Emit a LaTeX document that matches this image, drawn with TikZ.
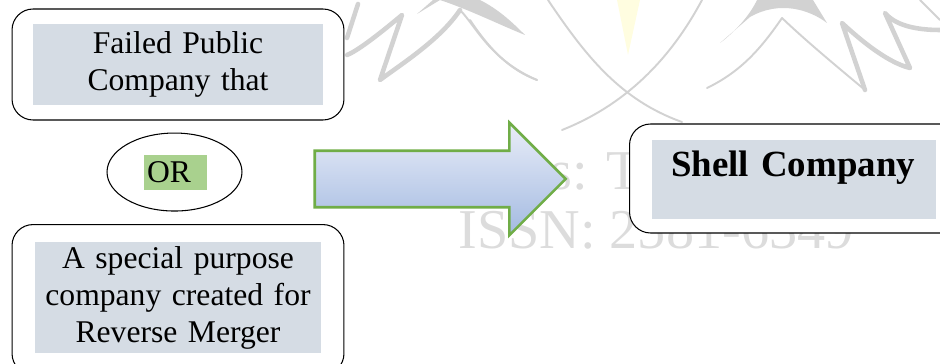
\documentclass[tikz,border=0pt]{standalone}
\usepackage{xcolor}
\usepackage{fontspec}
\setmainfont{Liberation Serif}
\usetikzlibrary{positioning,shapes.geometric,shapes.arrows}
\definecolor{softgray}{HTML}{D5DCE4}
\definecolor{softgreen}{HTML}{A9D18E}
\definecolor{arrowgreen}{HTML}{70AD47}
\definecolor{arrowtop}{HTML}{E9EDF8}
\definecolor{arrowbottom}{HTML}{A3BAE1}
\definecolor{marklines}{HTML}{D2D2D2}
\definecolor{marktext}{HTML}{DCDCDC}

\begin{document}
\begin{tikzpicture}[x=0.02cm, y=-0.02cm,
    every node/.style={font=\fontsize{18}{21}\selectfont},
    thinmark/.style={draw=marklines, line width=1.1pt, line cap=round, line join=round},
    thickmark/.style={draw=marklines, line width=2.6pt, line cap=round, line join=round},
    outerbox/.style={draw, line width=0.6pt, rounded corners=0.42cm, fill=white, minimum width=6.64cm, inner sep=0pt},
    grayblock/.style={fill=softgray, inner sep=0pt, align=center}]
  \useasboundingbox (0,0) rectangle (940,364);
  % faint marks behind the boxes
  \draw[thinmark] (470,20) .. controls (490,50) and (510,70) .. (537,80);
  \draw[thinmark] (460,10) .. controls (475,25) and (490,60) .. (537,80);
  \draw[thinmark] (548,0) .. controls (585,55) and (620,100) .. (682,122);
  \draw[thinmark] (702,0) .. controls (670,60) and (625,105) .. (562,130);
  \draw[thinmark] (707,88) .. controls (740,72) and (760,50) .. (782,18) .. controls (805,40) and (835,65) .. (865,90);
  \draw[thickmark] (865,90) -- (842,23) .. controls (855,35) and (885,62) .. (910,68) -- (885,13) .. controls (895,25) and (915,30) .. (940,30);
  \draw[thinmark] (920,0) -- (940,20);
  \fill[marklines] (720,43) .. controls (735,32) and (750,15) .. (757,0) -- (813,0) -- (827,23) .. controls (810,10) and (780,0) .. (750,17) -- cycle;
  \draw[thickmark] (347,55) .. controls (360,50) and (390,25) .. (402,15) -- (380,80) .. controls (400,65) and (440,40) .. (460,10);
  \draw[thickmark] (347,38) -- (358,4);
  \fill[marklines] (417,14) -- (433,0) -- (480,0) .. controls (500,10) and (515,25) .. (525,35) .. controls (500,25) and (470,10) .. (440,0) -- cycle;
  \fill[yellow!12] (617,0) -- (640,0) -- (628,55) -- cycle;
  \node[marktext, anchor=base west, inner sep=0pt, font=\fontsize{32}{32}\selectfont] (marka) at (550,190) {s: T};
  \node[marktext, anchor=base west, inner sep=0pt, font=\fontsize{32}{32}\selectfont] (markb) at (458,249) {ISSN: 2581-6349};
  % left column
  \node[outerbox, minimum height=2.22cm] (a) at (178,64.5) {};
  \node[grayblock, text width=5.8cm, minimum height=1.62cm, below=0.3cm of a.north] (atext) {Failed Public\\Company that};
  \node[draw, line width=0.6pt, ellipse, minimum width=2.7cm, minimum height=1.56cm, inner sep=0pt, below=0.24cm of a, xshift=-0.07cm] (or) {};
  \node[fill=softgreen, text width=1.14cm, inner sep=0.06cm, minimum height=0.7cm, align=left] (ortext) at (175.5,172.5) {OR};
  \node[outerbox, minimum height=3cm, below=0.25cm of or, xshift=0.07cm] (b) {};
  \node[grayblock, text width=5.74cm, minimum height=2.22cm, below=0.36cm of b.north] (btext) {A special purpose\\company created for\\Reverse Merger};
  % arrow
  \node[single arrow, draw=arrowgreen, line width=1.5pt, top color=arrowtop, bottom color=arrowbottom,
    minimum width=2.2cm, minimum height=5.02cm, single arrow head extend=0.56cm, single arrow tip angle=90,
    single arrow head indent=0pt, inner xsep=0pt, inner ysep=0.54cm] (arrow) at (426,179) {};
  % right box
  \node[outerbox, minimum height=2.18cm] (d) at (795.5,178.5) {};
  \node[fill=softgray, inner xsep=0pt, inner ysep=0pt, text width=5.68cm, align=left, text height=0.74cm, text depth=0.84cm,
    font=\fontsize{21}{24}\selectfont\bfseries, below=0.32cm of d.north, xshift=-0.03cm] (dtext) {\hspace*{0.38cm}Shell Company};
\end{tikzpicture}
\end{document}
